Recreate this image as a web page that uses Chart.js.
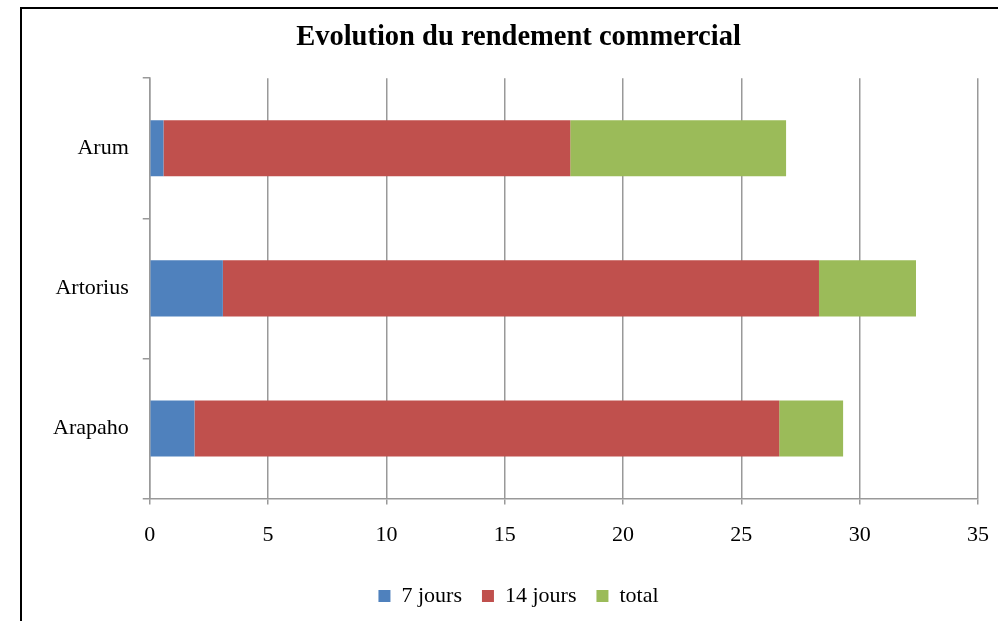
<!DOCTYPE html>
<html>
<head>
<meta charset="utf-8">
<script src="https://cdn.jsdelivr.net/npm/chart.js@4"></script>
<style>
    html, body { margin: 0; padding: 0; background: #fff; overflow: hidden; }
    #wrap { width: 998px; height: 621px; position: relative; }
</style>
</head>
<body>
<div id="wrap"><canvas id="chart" width="998" height="621"></canvas></div>
<script>
const categories = ['Arum', 'Artorius', 'Arapaho'];
const seriesNames = ['7 jours', '14 jours', 'total'];
const values7 = [0.58, 3.09, 1.89];
const values14 = [17.19, 25.19, 24.71];
const valuesTotal = [9.12, 4.1, 2.7];
const xTicks = [0, 5, 10, 15, 20, 25, 30, 35];
const colors = ['#4F81BD', '#C0504D', '#9BBB59'];

const FONT = '"Liberation Serif", "DejaVu Serif", serif';

// frame line like the exported picture (left and top only)
const framePlugin = {
    id: 'frame',
    afterDraw(chart) {
        const ctx = chart.ctx;
        ctx.save();
        ctx.strokeStyle = '#000';
        ctx.lineWidth = 2;
        ctx.beginPath();
        ctx.moveTo(21, 640);
        ctx.lineTo(21, 8);
        ctx.lineTo(1010, 8);
        ctx.stroke();
        ctx.restore();
    }
};

const ctx = document.getElementById('chart').getContext('2d');
new Chart(ctx, {
    type: 'bar',
    data: {
        labels: categories,
        datasets: [
            { label: seriesNames[0], data: values7, backgroundColor: colors[0] },
            { label: seriesNames[1], data: values14, backgroundColor: colors[1] },
            { label: seriesNames[2], data: valuesTotal, backgroundColor: colors[2] }
        ]
    },
    options: {
        indexAxis: 'y',
        responsive: false,
        animation: false,
        datasets: {
            bar: { barPercentage: 0.4, categoryPercentage: 1.0 }
        },
        layout: {
            padding: { left: 39, right: 0, top: 13, bottom: 4 }
        },
        plugins: {
            title: {
                display: true,
                text: 'Evolution du rendement commercial',
                color: '#000',
                font: { family: FONT, size: 28.5, weight: 'bold' },
                padding: { top: 8, bottom: 23 }
            },
            legend: {
                position: 'bottom',
                labels: {
                    color: '#000',
                    font: { family: FONT, size: 22 },
                    boxWidth: 12,
                    boxHeight: 12,
                    padding: 20
                }
            },
            tooltip: { enabled: false }
        },
        scales: {
            x: {
                stacked: true,
                min: 0,
                max: 35,
                afterBuildTicks(axis) {
                    axis.ticks = xTicks.map(v => ({ value: v }));
                },
                afterFit(axis) {
                    axis.paddingRight = 20;
                },
                grid: {
                    color: '#999',
                    lineWidth: 1.5,
                    drawTicks: true,
                    tickLength: 6,
                    tickColor: '#999'
                },
                border: { color: '#999', width: 1.5 },
                ticks: {
                    color: '#000',
                    font: { family: FONT, size: 22 },
                    padding: 17,
                    maxRotation: 0
                }
            },
            y: {
                stacked: true,
                grid: {
                    drawOnChartArea: false,
                    drawTicks: true,
                    tickLength: 7,
                    tickColor: '#999',
                    lineWidth: 1.5,
                    offset: true
                },
                border: { color: '#999', width: 1.5 },
                ticks: {
                    color: '#000',
                    font: { family: FONT, size: 22 },
                    padding: 14
                }
            }
        }
    },
    plugins: [framePlugin]
});
</script>
</body>
</html>
